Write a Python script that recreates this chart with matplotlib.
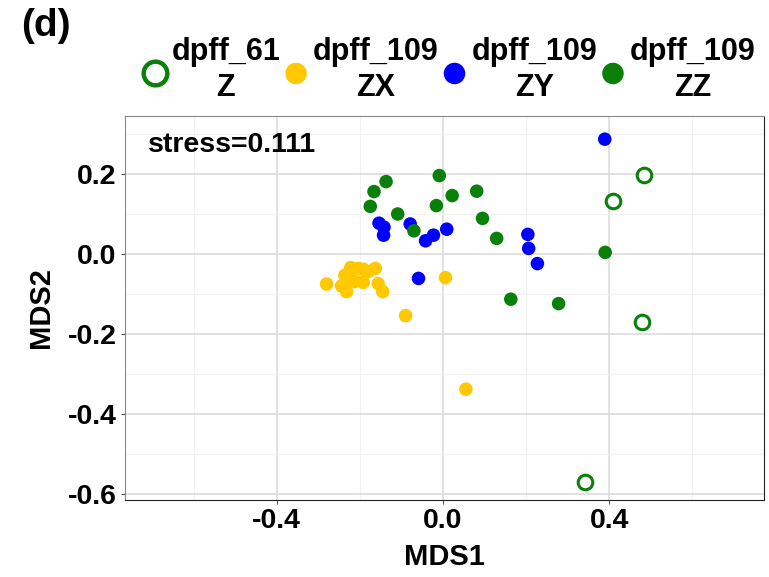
import matplotlib
matplotlib.use("Agg")
import matplotlib.pyplot as plt
from matplotlib.ticker import MultipleLocator

plt.rcParams['font.family'] = ['Liberation Sans', 'DejaVu Sans']
plt.rcParams['font.weight'] = 'bold'
plt.rcParams['axes.labelweight'] = 'bold'

# datos
z_x = [0.483, 0.409, 0.478, 0.341]
z_y = [0.196, 0.131, -0.171, -0.572]

zx_x = [-0.280, -0.222, -0.192, -0.163, -0.244, -0.232, -0.224, -0.192, -0.212,
        -0.156, -0.145, 0.006, -0.090, 0.055, -0.204, -0.180, -0.236]
zx_y = [-0.076, -0.035, -0.039, -0.037, -0.081, -0.095, -0.062, -0.072, -0.070,
        -0.075, -0.095, -0.060, -0.155, -0.339, -0.037, -0.045, -0.054]

zy_x = [0.389, 0.204, 0.206, 0.227, -0.154, -0.142, -0.143, -0.079, -0.042,
        -0.023, 0.009, -0.059]
zy_y = [0.286, 0.048, 0.013, -0.025, 0.076, 0.066, 0.046, 0.074, 0.032,
        0.046, 0.061, -0.062]

zz_x = [-0.137, -0.166, -0.175, -0.109, -0.070, -0.009, 0.022, -0.016, 0.081,
        0.095, 0.129, 0.390, 0.163, 0.278]
zz_y = [0.180, 0.155, 0.118, 0.099, 0.057, 0.195, 0.145, 0.120, 0.156,
        0.088, 0.038, 0.003, -0.114, -0.125]

etiquetas = ['dpff_61\nZ', 'dpff_109\nZX', 'dpff_109\nZY', 'dpff_109\nZZ']
verde = '#0a800a'
amarillo = '#ffc800'
azul = '#0000ff'

fig = plt.figure(figsize=(7.69, 5.77), dpi=100)
ax = fig.add_axes([0.1625, 0.1334, 0.831, 0.6656])

ax.scatter(z_x, z_y, s=110, facecolors='white', edgecolors=verde, linewidths=2.2,
           label=etiquetas[0], zorder=3)
ax.scatter(zx_x, zx_y, s=95, color=amarillo, edgecolors='none', label=etiquetas[1], zorder=3)
ax.scatter(zy_x, zy_y, s=95, color=azul, edgecolors='none', label=etiquetas[2], zorder=3)
ax.scatter(zz_x, zz_y, s=95, color=verde, edgecolors='none', label=etiquetas[3], zorder=3)

ax.set_xlim(-0.765, 0.772)
ax.set_ylim(-0.616, 0.344)
ax.xaxis.set_major_locator(MultipleLocator(0.4))
ax.xaxis.set_minor_locator(MultipleLocator(0.2))
ax.yaxis.set_major_locator(MultipleLocator(0.2))
ax.yaxis.set_minor_locator(MultipleLocator(0.1))
ax.xaxis.set_major_formatter(plt.FuncFormatter(lambda v, p: f'{v:.1f}'))
ax.yaxis.set_major_formatter(plt.FuncFormatter(lambda v, p: f'{v:.1f}'))
ax.grid(which='major', color='#d9d9d9', lw=1.1)
ax.grid(which='minor', color='#f2f2f2', lw=0.8)
ax.set_axisbelow(True)
ax.tick_params(which='major', length=3, width=0.8, color='#555555', labelsize=20.5, pad=3)
ax.tick_params(which='minor', length=0)
for lado in ['left', 'top']:
    ax.spines[lado].set_color('#888888')
for lado in ['bottom', 'right']:
    ax.spines[lado].set_color('#222222')

ax.set_xlabel('MDS1', fontsize=21, labelpad=6)
ax.set_ylabel('MDS2', fontsize=21, labelpad=9)

ax.text(0.036, 0.924, 'stress=0.111', transform=ax.transAxes, fontsize=20.5,
        va='center', ha='left')
fig.text(21 / 769, 1 - 26 / 577, '(d)', fontsize=28, va='center', ha='left')

leg = fig.legend(loc='center left', bbox_to_anchor=(127 / 769, 1 - 70 / 577), ncol=4,
                 frameon=False, fontsize=22, handlelength=0.8, handletextpad=0.15,
                 columnspacing=0.12, borderpad=0, labelspacing=0)
for t in leg.get_texts():
    t.set_multialignment('center')
    t.set_linespacing(1.25)
hs = leg.legend_handles
hs[0].set_sizes([290])
hs[0].set_linewidth(3.2)
for h in hs[1:]:
    h.set_sizes([240])

fig.savefig('out.png', dpi=100)
